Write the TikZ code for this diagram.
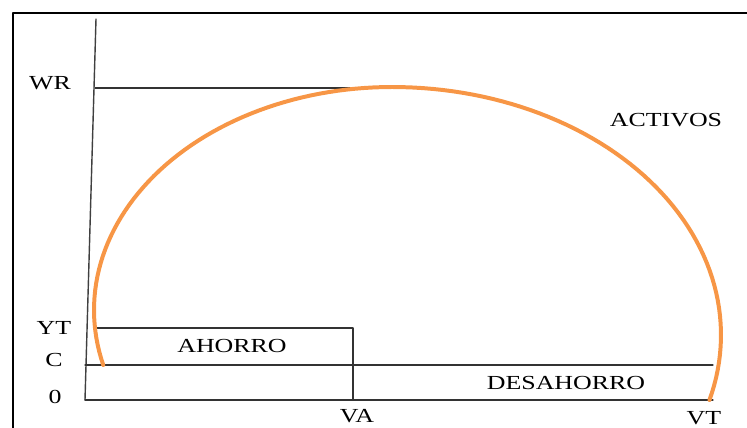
\documentclass[tikz,border=0pt]{standalone}
\usepackage{fontspec}
\setmainfont{Liberation Serif}
\usepackage{tikz}
\usetikzlibrary{positioning,calc}
\definecolor{activeorange}{RGB}{247,150,70}

\begin{document}
\begin{tikzpicture}[x=0.03cm, y=-0.03cm, line cap=round, line join=round,
  guide/.style={draw=black!80, line width=0.9pt},
  lbl/.style={inner sep=0pt, font=\fontsize{17}{20}\selectfont}]
  \useasboundingbox (0,0) rectangle (747,428);
  % frame
  \draw[line width=1.7pt, line cap=butt] (747,13) -- (13,13) -- (13,428);
  % axis and reference lines
  \coordinate (top) at (96,19);
  \coordinate (o) at (85,400);
  \coordinate (vtend) at (713,400);
  \coordinate (cstart) at (85,365);
  \coordinate (cend) at (713,365);
  \coordinate (ytstart) at (95,328);
  \coordinate (vatop) at (353,328);
  \coordinate (vabot) at (353,400);
  \coordinate (wrstart) at (95,88);
  \coordinate (wrend) at (375,88);
  \draw[draw=black!75, line width=1.2pt] (top) -- (o);
  \draw[guide] (o) -- (vtend);
  \draw[guide] (cstart) -- (cend);
  \draw[guide] (ytstart) -- (vatop) -- (vabot);
  \draw[guide] (wrstart) -- (wrend);
  % assets curve: two half-ellipse pieces meeting at the top
  \draw[activeorange, line width=3.4pt]
    plot[domain=165.7:270, samples=60] ({392+298*cos(\x)}, {310+223*sin(\x)})
    -- plot[domain=270:375.2, samples=60] ({392+329*cos(\x)}, {335+248*sin(\x)});
  % labels
  \node[lbl] (wr) at (50,83) {\scalebox{1.3}[1]{WR}};
  \node[lbl] (yt) at (54,328) {\scalebox{1.3}[1]{YT}};
  \node[lbl] (c) at (54,360) {\scalebox{1.3}[1]{C}};
  \node[lbl] (zero) at (55,397) {\scalebox{1.3}[1]{0}};
  \node[lbl] (va) at (357,416) {\scalebox{1.3}[1]{VA}};
  \node[lbl] (vt) at (704,418) {\scalebox{1.3}[1]{VT}};
  \node[lbl] (ahorro) at (232,346) {\scalebox{1.3}[1]{AHORRO}};
  \node[lbl] (desahorro) at (566,383) {\scalebox{1.3}[1]{DESAHORRO}};
  \node[lbl] (activos) at (666,120) {\scalebox{1.3}[1]{ACTIVOS}};
\end{tikzpicture}
\end{document}
